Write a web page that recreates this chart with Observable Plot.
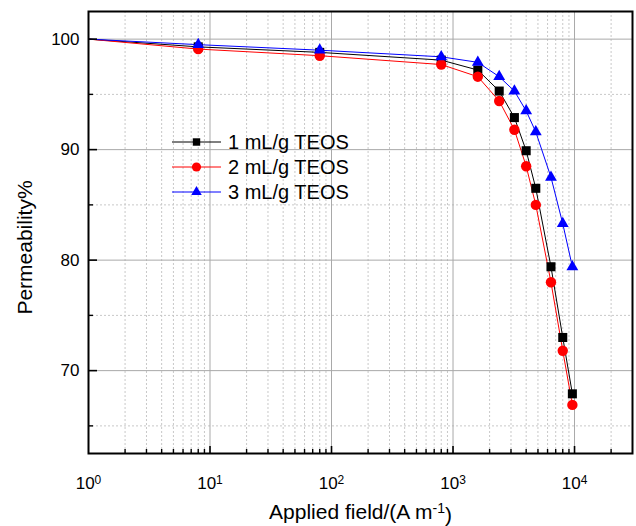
<!DOCTYPE html>
<html>
<head>
<meta charset="utf-8">
<script src="https://cdn.jsdelivr.net/npm/d3@7"></script>
<script src="https://cdn.jsdelivr.net/npm/@observablehq/plot@0.6"></script>
<style>
  html, body { margin: 0; padding: 0; background: white; }
  #wrap { position: relative; width: 636px; height: 526px; font-family: "Liberation Sans", Arial, sans-serif; }
  #legend { position: absolute; left: 0; top: 0; pointer-events: none; }
</style>
</head>
<body>
<div id="wrap"></div>
<script>
// Data (applied field in A/m, permeability in %)
const fieldValues = [1, 8, 80, 800, 1600, 2400, 3200, 4000, 4800, 6400, 8000, 9600];
const teos1 = [100, 99.3, 98.8, 98.1, 97.2, 95.3, 92.9, 89.9, 86.5, 79.4, 73.0, 67.9];
const teos2 = [100, 99.1, 98.5, 97.7, 96.6, 94.4, 91.8, 88.5, 85.0, 78.0, 71.8, 66.9];
const teos3 = [100, 99.5, 99.0, 98.4, 97.9, 96.6, 95.3, 93.5, 91.6, 87.5, 83.3, 79.4];
const seriesNames = ["1 mL/g TEOS", "2 mL/g TEOS", "3 mL/g TEOS"];
const seriesColors = ["#000000", "#ff0000", "#0000ff"];
const seriesSymbols = ["square", "circle", "triangle"];

// Axis ticks
const xMajor = [10, 100, 1000, 10000];
const xMinor = [2, 3, 4, 5, 6, 7, 8, 9, 20, 30, 40, 50, 60, 70, 80, 90,
                200, 300, 400, 500, 600, 700, 800, 900, 2000, 3000, 4000, 5000, 6000, 7000, 8000, 9000, 20000];
const xTickValues = [1, 10, 100, 1000, 10000];
const xTickBase = "10";
const xTickExponents = ["0", "1", "2", "3", "4"];
const yMajor = [70, 80, 90, 100];
const yMinor = [65, 75, 85, 95];
const xLabelMain = "Applied field/(A m";
const xLabelSup = "-1";
const xLabelTail = ")";
const yLabel = "Permeability%";

const seriesValues = [teos1, teos2, teos3];
const rows = [];
seriesValues.forEach((vals, s) => {
  vals.forEach((v, i) => rows.push({series: seriesNames[s], field: fieldValues[i], value: v, idx: i}));
});

const W = 636, H = 526, mL = 88, mR = 4, mT = 11, mB = 73;
const innerW = W - mL - mR, innerH = H - mT - mB;
const font = "'Liberation Sans', Arial, sans-serif";

const marks = [
  Plot.ruleX(xMinor, {x: d => d, stroke: "#c8c8c8", strokeDasharray: "2,2"}),
  Plot.ruleY(yMinor, {y: d => d, stroke: "#c8c8c8", strokeDasharray: "2,2"}),
  Plot.ruleX(xMajor, {x: d => d, stroke: "#a9a9a9"}),
  Plot.ruleY(yMajor, {y: d => d, stroke: "#a9a9a9"})
];
seriesNames.forEach((name, s) => {
  const d = rows.filter(r => r.series === name);
  marks.push(Plot.line(d, {x: "field", y: "value", stroke: seriesColors[s], strokeWidth: 1}));
});
seriesNames.forEach((name, s) => {
  const d = rows.filter(r => r.series === name && r.idx > 0);
  const r = s === 0 ? 5.1 : s === 1 ? 5.2 : 4.4;
  marks.push(Plot.dot(d, {x: "field", y: "value", symbol: () => seriesSymbols[s], fill: seriesColors[s], stroke: "none", r}));
});
marks.push(
  Plot.tickX(xMajor, {x: d => d, insetTop: innerH - 7, stroke: "black", strokeWidth: 1.6}),
  Plot.tickX(xMinor, {x: d => d, insetTop: innerH - 4, stroke: "black", strokeWidth: 1.4}),
  Plot.tickY(yMajor, {y: d => d, insetRight: innerW - 9, stroke: "black", strokeWidth: 1.6}),
  Plot.tickY(yMinor, {y: d => d, insetRight: innerW - 5, stroke: "black", strokeWidth: 1.4}),
  Plot.axisX({ticks: xTickValues, tickSize: 0, tickPadding: 23, fontSize: 17, label: null,
    tickFormat: v => xTickBase + xTickExponents[xTickValues.indexOf(v)]}),
  Plot.axisY({ticks: yMajor, tickSize: 0, tickPadding: 9, fontSize: 17, label: null}),
  Plot.frame({stroke: "black", strokeWidth: 2}),
  Plot.text([xLabelMain], {text: d => d, frameAnchor: "bottom", dy: 59, fontSize: 21, lineAnchor: "middle", textAnchor: "middle", fill: "black"}),
  Plot.text([yLabel], {text: d => d, frameAnchor: "left", dx: -63, dy: 15, rotate: -90, fontSize: 21, lineAnchor: "middle", textAnchor: "middle", fill: "black"})
);

const chart = Plot.plot({
  width: W, height: H,
  marginLeft: mL, marginRight: mR, marginTop: mT, marginBottom: mB,
  x: {type: "log", domain: [1, 30000]},
  y: {domain: [62.5, 102.5]},
  style: {fontFamily: font, background: "white", color: "black", overflow: "visible"},
  marks
});
const wrap = document.getElementById("wrap");
wrap.appendChild(chart);

// Superscripts on x tick labels
d3.select(chart).selectAll('g[aria-label="x-axis tick label"] text').each(function(d, i) {
  const t = d3.select(this);
  const full = t.text();
  const exp = full.slice(xTickBase.length);
  t.text(xTickBase);
  t.append("tspan").attr("font-size", 12).attr("dy", "-0.42em").text(exp);
});
// Superscript on x axis label
d3.select(chart).selectAll("text").filter(function() { return d3.select(this).text() === xLabelMain; }).each(function() {
  const t = d3.select(this);
  t.append("tspan").attr("font-size", 14).attr("dy", "-0.45em").text(xLabelSup);
  t.append("tspan").attr("dy", "0.45em").text(xLabelTail);
});

// Legend overlay
const ns = "http://www.w3.org/2000/svg";
const lg = document.createElementNS(ns, "svg");
lg.setAttribute("id", "legend");
lg.setAttribute("width", W);
lg.setAttribute("height", H);
const legendX0 = 172, legendX1 = 221, legendTextX = 228, legendY0 = 142, legendStep = 25;
seriesNames.forEach((name, s) => {
  const y = legendY0 + s * legendStep;
  const ln = document.createElementNS(ns, "line");
  ln.setAttribute("x1", legendX0); ln.setAttribute("x2", legendX1);
  ln.setAttribute("y1", y); ln.setAttribute("y2", y);
  ln.setAttribute("stroke", seriesColors[s]); ln.setAttribute("stroke-width", 1);
  lg.appendChild(ln);
  const sym = {square: d3.symbolSquare, circle: d3.symbolCircle, triangle: d3.symbolTriangle}[seriesSymbols[s]];
  const r = s === 0 ? 4.2 : s === 1 ? 4.6 : 3.9;
  const p = document.createElementNS(ns, "path");
  p.setAttribute("d", d3.symbol(sym, Math.PI * r * r)());
  p.setAttribute("transform", `translate(${(legendX0 + legendX1) / 2},${y})`);
  p.setAttribute("fill", seriesColors[s]);
  lg.appendChild(p);
  const t = document.createElementNS(ns, "text");
  t.setAttribute("x", legendTextX); t.setAttribute("y", y + 7);
  t.setAttribute("font-size", 20); t.setAttribute("font-family", font);
  t.setAttribute("fill", "black");
  t.textContent = name;
  lg.appendChild(t);
});
wrap.appendChild(lg);
</script>
</body>
</html>
